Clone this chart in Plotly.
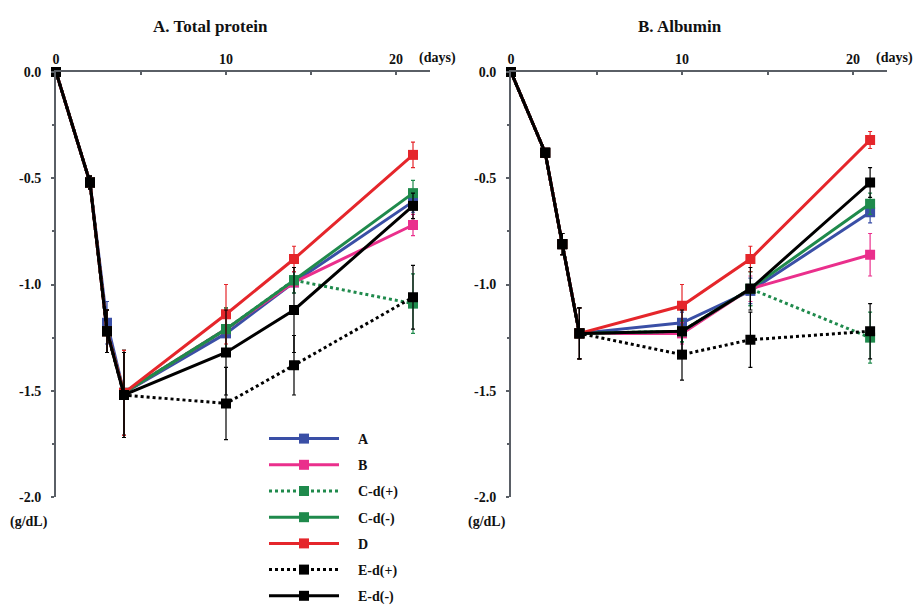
import plotly.graph_objects as go

days = [0, 2, 3, 4, 10, 14, 21]
series_names = ["A", "B", "C-d(+)", "C-d(-)", "D", "E-d(+)", "E-d(-)"]
colors = ["#3a4fa6", "#ea2f8c", "#1f8a4c", "#1f8a4c", "#e5262b", "#000000", "#000000"]
dashes = ["solid", "solid", "dot", "solid", "solid", "dot", "solid"]

# A. Total protein (g/dL change)
tp_A = [0, -0.52, -1.18, -1.51, -1.23, -0.99, -0.61]
tp_B = [0, -0.52, -1.22, -1.51, -1.21, -0.99, -0.72]
tp_Cp = [0, -0.52, -1.22, -1.51, -1.21, -0.98, -1.09]
tp_Cm = [0, -0.52, -1.22, -1.51, -1.21, -0.98, -0.57]
tp_D = [0, -0.52, -1.22, -1.51, -1.14, -0.88, -0.39]
tp_Ep = [0, -0.52, -1.22, -1.52, -1.56, -1.38, -1.06]
tp_Em = [0, -0.52, -1.22, -1.52, -1.32, -1.12, -0.63]

tp_err_A = [0, 0.03, 0.1, 0.2, 0.1, 0.05, 0.05]
tp_err_B = [0, 0.03, 0.1, 0.2, 0.1, 0.05, 0.05]
tp_err_Cp = [0, 0.03, 0.1, 0.2, 0.1, 0.06, 0.14]
tp_err_Cm = [0, 0.03, 0.1, 0.2, 0.1, 0.06, 0.06]
tp_err_D = [0, 0.03, 0.1, 0.2, 0.14, 0.06, 0.06]
tp_err_Ep = [0, 0.03, 0.1, 0.2, 0.17, 0.14, 0.15]
tp_err_Em = [0, 0.03, 0.1, 0.2, 0.2, 0.2, 0.06]

# B. Albumin (g/dL change)
al_A = [0, -0.38, -0.81, -1.23, -1.18, -1.03, -0.66]
al_B = [0, -0.38, -0.81, -1.23, -1.23, -1.02, -0.86]
al_Cp = [0, -0.38, -0.81, -1.23, -1.22, -1.02, -1.25]
al_Cm = [0, -0.38, -0.81, -1.23, -1.22, -1.02, -0.62]
al_D = [0, -0.38, -0.81, -1.23, -1.10, -0.88, -0.32]
al_Ep = [0, -0.38, -0.81, -1.23, -1.33, -1.26, -1.22]
al_Em = [0, -0.38, -0.81, -1.23, -1.22, -1.02, -0.52]

al_err_A = [0, 0.02, 0.05, 0.12, 0.05, 0.06, 0.05]
al_err_B = [0, 0.02, 0.05, 0.12, 0.05, 0.06, 0.1]
al_err_Cp = [0, 0.02, 0.05, 0.12, 0.05, 0.08, 0.12]
al_err_Cm = [0, 0.02, 0.05, 0.12, 0.05, 0.08, 0.05]
al_err_D = [0, 0.02, 0.05, 0.12, 0.1, 0.06, 0.04]
al_err_Ep = [0, 0.02, 0.05, 0.12, 0.12, 0.13, 0.13]
al_err_Em = [0, 0.02, 0.05, 0.12, 0.1, 0.1, 0.07]

tp_vals = [tp_A, tp_B, tp_Cp, tp_Cm, tp_D, tp_Ep, tp_Em]
tp_errs = [tp_err_A, tp_err_B, tp_err_Cp, tp_err_Cm, tp_err_D, tp_err_Ep, tp_err_Em]
al_vals = [al_A, al_B, al_Cp, al_Cm, al_D, al_Ep, al_Em]
al_errs = [al_err_A, al_err_B, al_err_Cp, al_err_Cm, al_err_D, al_err_Ep, al_err_Em]

x_ticks = [0, 10, 20]
y_ticks = [0.0, -0.5, -1.0, -1.5, -2.0]
y_tick_text = ["0.0", "-0.5", "-1.0", "-1.5", "-2.0"]

FONT = "Liberation Serif"
BOLD = dict(family=FONT, size=14, color="#111", weight="bold")
AXC = "#5a5f66"
fig = go.Figure()

for vals, errs, xa, ya, show in [(tp_vals, tp_errs, "x", "y", True), (al_vals, al_errs, "x2", "y2", False)]:
    for name, v, e, c, d in zip(series_names, vals, errs, colors, dashes):
        fig.add_trace(go.Scatter(
            x=days, y=v, name="\u2002\u2002" + name, xaxis=xa, yaxis=ya,
            mode="lines+markers", showlegend=show, cliponaxis=False,
            legendgroup=name,
            line=dict(color=c, width=3, dash=d),
            marker=dict(symbol="square", size=10, color=c),
            error_y=dict(type="data", array=e, visible=True, color=c, thickness=1.2, width=2),
        ))

W, H = 916, 606
top_px, bot_px = 72, 497
l_dom = [56 / W, (56 + 22 * 17.0) / W]
r_dom = [511 / W, (511 + 22 * 17.1) / W]

xcommon = dict(range=[0, 22], side="top", tickvals=x_ticks, ticks="inside", ticklen=3,
               showline=True, linecolor=AXC, linewidth=2, showgrid=False, zeroline=False,
               tickfont=BOLD, tickcolor=AXC, tickwidth=2, automargin=False,
               minor=dict(tickvals=[5, 15], ticks="inside", ticklen=3, tickcolor=AXC, tickwidth=2))
ycommon = dict(range=[-2.0, 0], tickvals=y_ticks, ticktext=y_tick_text, ticks="outside", ticklen=3,
               showline=True, linecolor=AXC, linewidth=2, showgrid=False, zeroline=False,
               tickfont=BOLD, tickcolor=AXC, tickwidth=2, automargin=False,
               ticklabelstandoff=7,
               minor=dict(dtick=0.25, ticks="outside", ticklen=2, tickcolor=AXC, tickwidth=2))

fig.update_layout(
    width=W, height=H,
    margin=dict(l=0, r=0, t=top_px, b=H - bot_px, autoexpand=False),
    plot_bgcolor="white", paper_bgcolor="white",
    font=dict(family=FONT, color="#111"),
    xaxis=dict(domain=l_dom, anchor="y", **xcommon),
    yaxis=dict(domain=[0, 1], anchor="x", **ycommon),
    xaxis2=dict(domain=r_dom, anchor="y2", **xcommon),
    yaxis2=dict(domain=[0, 1], anchor="x2", **ycommon),
    legend=dict(x=264 / W, xanchor="left", y=(bot_px - 423) / (bot_px - top_px), yanchor="top",
                font=BOLD, bgcolor="rgba(0,0,0,0)",
                itemwidth=70, tracegroupgap=5, traceorder="grouped"),
    showlegend=True,
)

ann = [
    dict(text="A. Total protein", x=210 / W, y=(bot_px - 27) / (bot_px - top_px)),
    dict(text="B. Albumin", x=680 / W, y=(bot_px - 27) / (bot_px - top_px)),
]
for a in ann:
    fig.add_annotation(xref="paper", yref="paper", showarrow=False,
                       font=dict(family=FONT, size=17, color="#111", weight="bold"),
                       x=a["x"], y=a["y"], text=a["text"], xanchor="center", yanchor="middle")
for xp, anc in [(417, "left"), (915, "right")]:
    fig.add_annotation(xref="paper", yref="paper", showarrow=False, font=BOLD,
                       x=xp / W, y=(bot_px - 58) / (bot_px - top_px), text="(days)", xanchor=anc, yanchor="middle")
for xp in [29, 487]:
    fig.add_annotation(xref="paper", yref="paper", showarrow=False, font=BOLD,
                       x=xp / W, y=(bot_px - 522) / (bot_px - top_px), text="(g/dL)", xanchor="center", yanchor="middle")

fig.write_html("out.html", config={"displayModeBar": False},
               post_script="document.body.style.margin='0';document.body.style.overflow='hidden';")
